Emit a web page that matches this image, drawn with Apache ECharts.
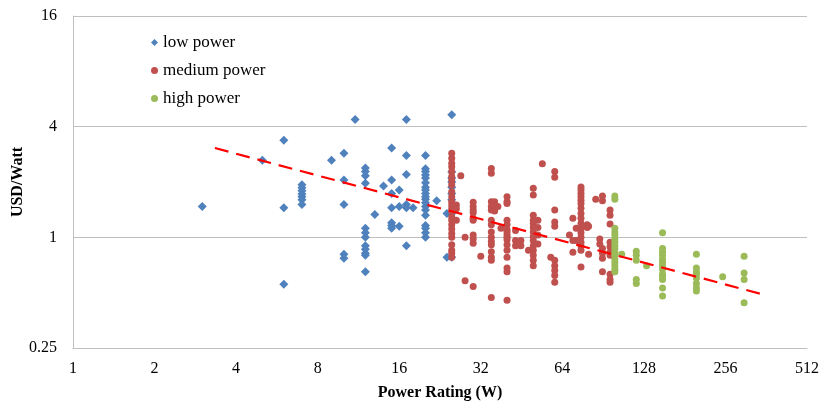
<!DOCTYPE html>
<html>
<head>
<meta charset="utf-8">
<script src="https://cdn.jsdelivr.net/npm/echarts@6/dist/echarts.min.js"></script>
<style>html,body{margin:0;padding:0;background:#fff;}</style>
</head>
<body>
<div id="main" style="width:821px;height:403px;"></div>
<script>
    // [power rating (W), USD/Watt]
    var lowPower = [
        [3, 1.47], [5, 2.63], [6, 3.37], [6, 1.45], [6, 0.555],
        [7, 1.93], [7, 1.86], [7, 1.79], [7, 1.72], [7, 1.66], [7, 1.6], [7, 1.51],
        [9, 2.63], [10, 2.87], [10, 2.05], [10, 1.51], [10, 0.81], [10, 0.77], [11, 4.37],
        [12, 2.38], [12, 2.28], [12, 2.16], [12, 1.97], [12, 1.12], [12, 1.06], [12, 1.0],
        [12, 0.9], [12, 0.86], [12, 0.82], [12, 0.8], [12, 0.65],
        [13, 1.33], [14, 1.9],
        [15, 3.06], [15, 2.05], [15, 1.73], [15, 1.45], [15, 1.2], [15, 1.16], [15, 1.12],
        [16, 1.81], [16, 1.47], [16, 1.15],
        [17, 4.37], [17, 2.79], [17, 2.2], [17, 1.51], [17, 1.45], [17, 0.9], [18, 1.45],
        [20, 2.79], [20, 2.36], [20, 2.28], [20, 2.18], [20, 2.1], [20, 1.98], [20, 1.87],
        [20, 1.81], [20, 1.73], [20, 1.66], [20, 1.61], [20, 1.54], [20, 1.47], [20, 1.41],
        [20, 1.32], [20, 1.16], [20, 1.12], [20, 1.06], [20, 1.0],
        [22, 1.58], [24, 1.35], [24, 0.78],
        [25, 4.65], [25, 2.27], [25, 2.1], [25, 2.0], [25, 1.87], [25, 1.73], [25, 1.6],
        [25, 1.35], [25, 0.78]
    ];
    var mediumPower = [
        [25, 2.87], [25, 2.69], [25, 2.53], [25, 2.42], [25, 2.28], [25, 2.14], [25, 2.05],
        [25, 1.93], [25, 1.77], [25, 1.66], [25, 1.56], [25, 1.5], [25, 1.44], [25, 1.38],
        [25, 1.29], [25, 1.24], [25, 1.17], [25, 1.11], [25, 1.05], [25, 1.0], [25, 0.91],
        [25, 0.85], [25, 0.82], [25, 0.78],
        [26, 1.5], [26, 1.43], [26, 1.24], [27, 2.16], [28, 1.0], [28, 0.58],
        [30, 1.55], [30, 1.47], [30, 1.41], [30, 1.36], [30, 1.27], [30, 1.24], [30, 1.03],
        [30, 0.98], [30, 0.93], [30, 0.54], [32, 0.79],
        [35, 2.37], [35, 2.23], [35, 1.56], [35, 1.47], [35, 1.41], [35, 1.24], [35, 1.17],
        [35, 1.07], [35, 1.0], [35, 0.95], [35, 0.91], [35, 0.835], [35, 0.78], [35, 0.75],
        [35, 0.47], [36, 1.56], [36, 1.47], [36, 1.39], [37, 1.47], [38, 1.12],
        [40, 1.66], [40, 1.56], [40, 1.53], [40, 1.24], [40, 1.17], [40, 1.1], [40, 1.07],
        [40, 1.03], [40, 1.0], [40, 0.97], [40, 0.91], [40, 0.85], [40, 0.78], [40, 0.68],
        [40, 0.65], [40, 0.455],
        [43, 1.09], [43, 0.96], [43, 0.9], [45, 0.96], [45, 0.9], [48, 0.85],
        [50, 1.85], [50, 1.7], [50, 1.32], [50, 1.24], [50, 1.19], [50, 1.13], [50, 1.07],
        [50, 1.01], [50, 0.96], [50, 0.9], [50, 0.85], [50, 0.8], [50, 0.75], [50, 0.7],
        [52, 1.24], [52, 1.13], [52, 1.03], [52, 0.92], [54, 2.51], [58, 0.78],
        [60, 2.28], [60, 2.12], [60, 1.41], [60, 1.21], [60, 1.15], [60, 0.75], [60, 0.7],
        [60, 0.66], [60, 0.62], [60, 0.57],
        [68, 1.03], [70, 1.27], [70, 0.96], [70, 0.83], [72, 1.12], [72, 0.96],
        [75, 1.88], [75, 1.81], [75, 1.73], [75, 1.66], [75, 1.59], [75, 1.53], [75, 1.44],
        [75, 1.35], [75, 1.27], [75, 1.19], [75, 1.12], [75, 1.06], [75, 1.0], [75, 0.94],
        [75, 0.9], [75, 0.85], [75, 0.69],
        [79, 1.17], [79, 1.13], [80, 1.15], [80, 0.81], [85, 1.61],
        [88, 0.98], [88, 0.92],
        [90, 1.68], [90, 1.58], [90, 0.87], [90, 0.82], [90, 0.77], [90, 0.65],
        [96, 1.41], [96, 1.32], [96, 1.18], [96, 0.94], [96, 0.89], [96, 0.83], [96, 0.8],
        [96, 0.63], [96, 0.59], [96, 0.57]
    ];
    var highPower = [
        [100, 1.68], [100, 1.61], [100, 1.12], [100, 1.07], [100, 1.03], [100, 0.98],
        [100, 0.94], [100, 0.9], [100, 0.87], [100, 0.83], [100, 0.8], [100, 0.76],
        [100, 0.73], [100, 0.7], [100, 0.67], [100, 0.65],
        [106, 0.81],
        [120, 0.84], [120, 0.8], [120, 0.75], [120, 0.59], [120, 0.56],
        [131, 0.7],
        [150, 1.06], [150, 0.87], [150, 0.83], [150, 0.8], [150, 0.76], [150, 0.73],
        [150, 0.7], [150, 0.67], [150, 0.63], [150, 0.61], [150, 0.59], [150, 0.53], [150, 0.48],
        [200, 0.81], [200, 0.68], [200, 0.65], [200, 0.63], [200, 0.6], [200, 0.56],
        [200, 0.53], [200, 0.51],
        [250, 0.61],
        [300, 0.79], [300, 0.64], [300, 0.59], [300, 0.44]
    ];
    var trendLine = [[3.34, 3.06], [350, 0.49]];
    var seriesNames = ['low power', 'medium power', 'high power'];

    var serif = 'Liberation Serif';
    var myChart = echarts.init(document.getElementById('main'));

    var option = {
        backgroundColor: '#fff',
        animation: false,
        grid: {left: 73, right: 14, top: 16, bottom: 55, containLabel: false, outerBoundsMode: 'none'},
        legend: {
            orient: 'vertical',
            left: 146,
            top: 29,
            itemGap: 11,
            itemWidth: 7,
            itemHeight: 7,
            data: seriesNames,
            textStyle: {fontFamily: serif, fontSize: 17, color: '#000'}
        },
        xAxis: {
            type: 'log',
            logBase: 2,
            min: 1,
            max: 512,
            splitNumber: 9,
            name: 'Power Rating (W)',
            nameLocation: 'middle',
            nameGap: 37,
            nameMoveOverlap: false,
            nameTextStyle: {fontFamily: serif, fontSize: 16, fontWeight: 'bold', color: '#000'},
            axisLine: {lineStyle: {color: '#bfbfbf', width: 1}},
            axisTick: {show: false},
            splitLine: {show: false},
            minorTick: {show: false},
            axisLabel: {fontFamily: serif, fontSize: 16, color: '#000', margin: 13}
        },
        yAxis: {
            type: 'log',
            logBase: 4,
            min: 0.25,
            max: 16,
            splitNumber: 3,
            name: 'USD/Watt',
            nameLocation: 'middle',
            nameGap: 47,
            nameMoveOverlap: false,
            nameTextStyle: {fontFamily: serif, fontSize: 16, fontWeight: 'bold', color: '#000'},
            axisLine: {show: true, lineStyle: {color: '#bfbfbf', width: 1}},
            axisTick: {show: false},
            splitLine: {show: true, lineStyle: {color: '#bfbfbf', width: 1}},
            axisLabel: {fontFamily: serif, fontSize: 16, color: '#000', margin: 16}
        },
        series: [
            {
                name: seriesNames[0],
                type: 'scatter',
                symbol: 'diamond',
                symbolSize: 9,
                itemStyle: {color: '#4f81bd', opacity: 1},
                data: lowPower
            },
            {
                name: seriesNames[1],
                type: 'scatter',
                symbol: 'circle',
                symbolSize: 7,
                itemStyle: {color: '#c0504d', opacity: 1},
                data: mediumPower
            },
            {
                name: seriesNames[2],
                type: 'scatter',
                symbol: 'circle',
                symbolSize: 7,
                itemStyle: {color: '#9bbb59', opacity: 1},
                data: highPower
            },
            {
                name: 'trend',
                type: 'line',
                z: 5,
                symbol: 'none',
                silent: true,
                lineStyle: {color: '#ff0000', width: 2.2, type: [14, 8]},
                data: trendLine
            }
        ]
    };

    myChart.setOption(option);
</script>
</body>
</html>
